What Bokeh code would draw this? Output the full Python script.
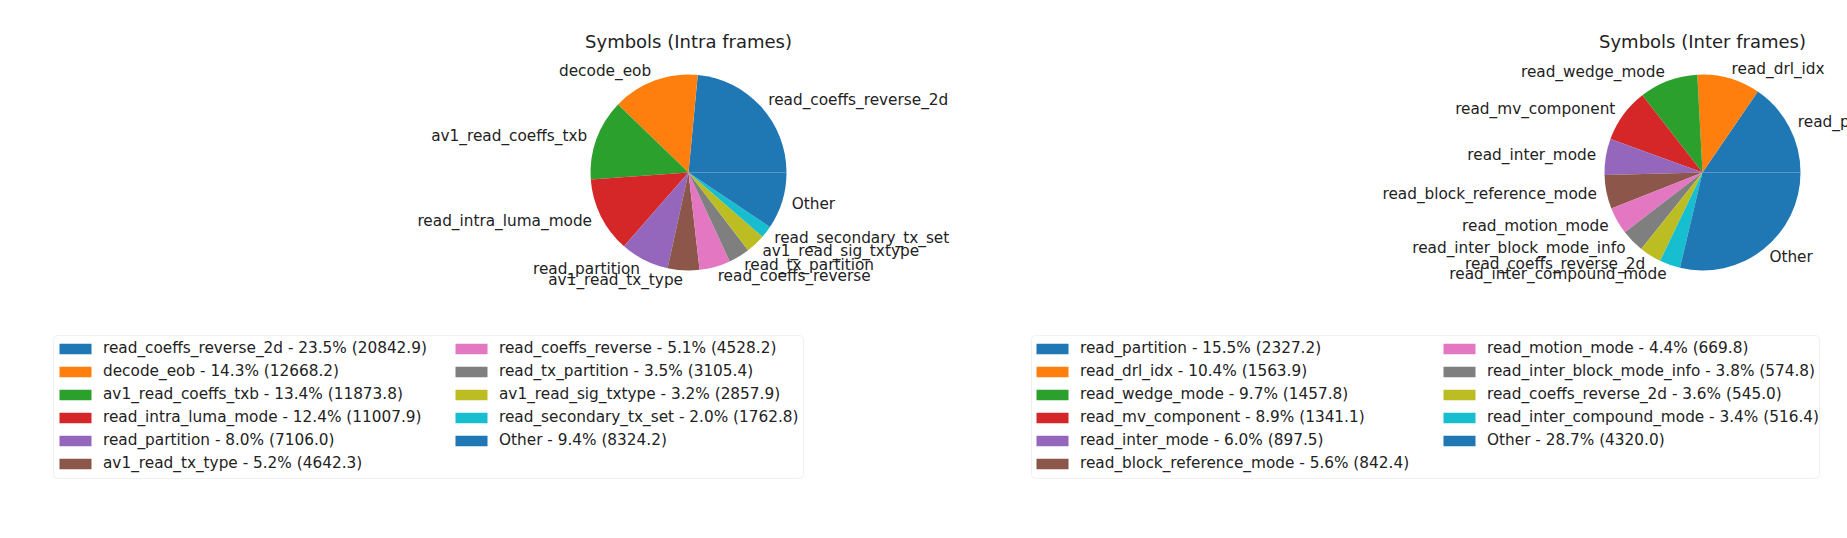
import numpy as np
from bokeh.plotting import figure
from bokeh.models import ColumnDataSource, Range1d, Legend, LegendItem, BoxAnnotation
from bokeh.core.properties import value
from bokeh.embed import file_html
from bokeh.resources import INLINE

# ---------------- data ----------------
intra_names = ["read_coeffs_reverse_2d", "decode_eob", "av1_read_coeffs_txb",
               "read_intra_luma_mode", "read_partition", "av1_read_tx_type",
               "read_coeffs_reverse", "read_tx_partition", "av1_read_sig_txtype",
               "read_secondary_tx_set", "Other"]
intra_values = [20842.9, 12668.2, 11873.8, 11007.9, 7106.0, 4642.3,
                4528.2, 3105.4, 2857.9, 1762.8, 8324.2]

inter_names = ["read_partition", "read_drl_idx", "read_wedge_mode",
               "read_mv_component", "read_inter_mode", "read_block_reference_mode",
               "read_motion_mode", "read_inter_block_mode_info", "read_coeffs_reverse_2d",
               "read_inter_compound_mode", "Other"]
inter_values = [2327.2, 1563.9, 1457.8, 1341.1, 897.5, 842.4,
                669.8, 574.8, 545.0, 516.4, 4320.0]

titles = ["Symbols (Intra frames)", "Symbols (Inter frames)"]

tab10 = ["#1f77b4", "#ff7f0e", "#2ca02c", "#d62728", "#9467bd",
         "#8c564b", "#e377c2", "#7f7f7f", "#bcbd22", "#17becf"]

# ---------------- layout ----------------
W, H = 1847, 530
PAGE_H = 538
FONT_NAME = "DejaVu Sans"
FONT = value(FONT_NAME)
FS = "15.3px"
TXT = "#222222"


def Y(row):
    """reference pixel row -> data y (data units are pixels, y up)"""
    return PAGE_H - row


p = figure(width=W, height=H,
           x_range=Range1d(0, W), y_range=Range1d(PAGE_H - H, PAGE_H),
           x_axis_type=None, y_axis_type=None,
           toolbar_location=None, output_backend="svg",
           min_border=0, outline_line_color=None)
p.grid.grid_line_color = None
p.background_fill_color = "white"
p.border_fill_color = "white"


def draw_pie(names, vals, title, cx, cy, r, box, col_x):
    vals = np.asarray(vals, dtype=float)
    frac = vals / vals.sum()
    ends = np.cumsum(frac) * 2 * np.pi
    starts = ends - frac * 2 * np.pi
    mids = (starts + ends) / 2
    colors = [tab10[i % 10] for i in range(len(vals))]
    labels = [f"{n} - {f * 100:.1f}% ({v:.1f})" for n, f, v in zip(names, frac, vals)]

    src = ColumnDataSource(dict(start=starts, end=ends, color=colors))
    wr = p.wedge(x=cx, y=cy, radius=r, start_angle="start", end_angle="end",
                 fill_color="color", line_color=None, source=src)

    lx = cx + 1.1 * r * np.cos(mids)
    ly = cy + 1.1 * r * np.sin(mids)
    right = lx > cx
    for mask, align in ((right, "left"), (~right, "right")):
        s = ColumnDataSource(dict(x=lx[mask], y=ly[mask],
                                  t=[n for n, m in zip(names, mask) if m]))
        p.text(x="x", y="y", text="t", source=s, text_align=align,
               text_baseline="middle", text_font=FONT, text_font_size=FS,
               text_color=TXT)

    p.text(x=[cx], y=[Y(41)], text=[title], text_align="center",
           text_baseline="alphabetic", text_font=FONT, text_font_size="18px",
           text_color=TXT)

    l, t, rr, b = box
    p.add_layout(BoxAnnotation(left=l, right=rr, top=Y(t), bottom=Y(b),
                               fill_color="white", fill_alpha=0.8,
                               line_color="#cccccc", line_width=1, border_radius=4))

    items = [LegendItem(label=lab, renderers=[wr], index=i) for i, lab in enumerate(labels)]
    cols = [items[:6], items[6:]]
    for its, x0 in zip(cols, col_x):
        bottom = 336.5 + 23 * len(its)
        # legend location is measured from the frame's bottom-left corner
        leg = Legend(items=its, location=(x0, H - bottom),
                     orientation="vertical", padding=0, margin=0, spacing=0,
                     glyph_width=40, glyph_height=13, label_height=23,
                     label_standoff=8, label_text_font=FONT_NAME,
                     label_text_font_size=FS, label_text_color=TXT,
                     border_line_color=None, background_fill_alpha=0)
        p.add_layout(leg)


draw_pie(intra_names, intra_values, titles[0], 688, Y(172), 98,
         (53, 335, 803, 478), (55, 451))
draw_pie(inter_names, inter_values, titles[1], 1702, Y(172), 98,
         (1031, 335, 1819, 478), (1032, 1439))

open("out.html", "w").write(file_html(p, INLINE))
